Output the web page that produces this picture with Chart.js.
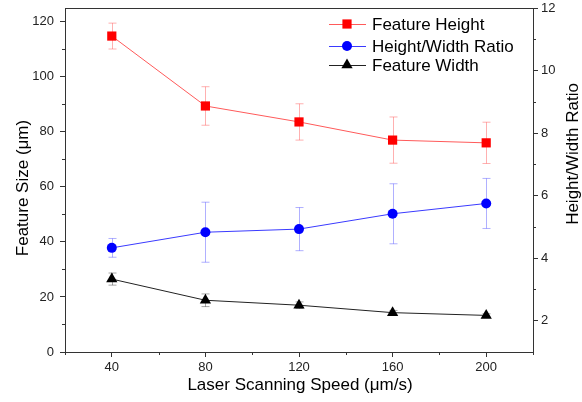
<!DOCTYPE html>
<html>
<head>
<meta charset="utf-8">
<script src="https://cdn.jsdelivr.net/npm/chart.js@4.4.0/dist/chart.umd.min.js"></script>
<style>
  html, body { margin:0; padding:0; background:#fff; }
  #wrap { width:582px; height:402px; }
</style>
</head>
<body>
<div id="wrap"><canvas id="chart" width="582" height="402"></canvas></div>
<script>
'use strict';
// data
const speeds     = [40, 80, 120, 160, 200];
const heightVals = [114.8, 89.4, 83.6, 77.0, 76.0];
const heightErr  = [4.7, 7.0, 6.6, 8.4, 7.5];
const ratioVals  = [4.33, 4.83, 4.93, 5.42, 5.75];
const ratioErr   = [0.30, 0.96, 0.69, 0.96, 0.80];
const widthVals  = [26.5, 18.8, 17.0, 14.3, 13.3];
const widthErr   = [2.2, 2.3, 1.2, 0.8, 0.6];

const xTicks      = [40, 80, 120, 160, 200];
const xMinor      = [20, 60, 100, 140, 180, 220];
const leftTicks   = [0, 20, 40, 60, 80, 100, 120];
const leftMinor   = [10, 30, 50, 70, 90, 110];
const rightTicks  = [2, 4, 6, 8, 10, 12];
const rightMinor  = [3, 5, 7, 9, 11];

const FONT = "'Liberation Sans', Arial, sans-serif";
const AXIS = '#333';

const pts = vals => speeds.map((s, i) => ({ x:s, y:vals[i] }));

const series = [
  { label:'Feature Height', data:pts(heightVals), errors:heightErr, yAxisID:'y',
    color:'#ff0000', line:'#ff5a5a', errColor:'rgba(255,80,80,.45)', style:'rect', r:6.5 },
  { label:'Height/Width Ratio', data:pts(ratioVals), errors:ratioErr, yAxisID:'y1',
    color:'#0000ff', line:'#3a3aff', errColor:'rgba(80,80,255,.45)', style:'circle', r:5 },
  { label:'Feature Width', data:pts(widthVals), errors:widthErr, yAxisID:'y',
    color:'#000000', line:'#222', errColor:'rgba(0,0,0,.35)', style:'triangle', r:6.5 },
];

const decorations = {
  id:'decorations',
  beforeDatasetsDraw(chart) {
    const ctx = chart.ctx;
    chart.data.datasets.forEach((ds, i) => {
      const meta = chart.getDatasetMeta(i);
      const ys = chart.scales[ds.yAxisID];
      ctx.save();
      ctx.strokeStyle = ds.errColor; ctx.lineWidth = 1;
      meta.data.forEach((p, j) => {
        const v = ds.data[j].y, e = ds.errors[j];
        const x = Math.round(p.x) + 0.5;
        const y1 = ys.getPixelForValue(v + e), y2 = ys.getPixelForValue(v - e);
        ctx.beginPath();
        ctx.moveTo(x, y1); ctx.lineTo(x, y2);
        ctx.moveTo(x - 4, y1); ctx.lineTo(x + 4, y1);
        ctx.moveTo(x - 4, y2); ctx.lineTo(x + 4, y2);
        ctx.stroke();
      });
      ctx.restore();
    });
  },
  afterDraw(chart) {
    const ctx = chart.ctx, a = chart.chartArea;
    const { x, y, y1 } = chart.scales;
    ctx.save();
    ctx.strokeStyle = AXIS; ctx.lineWidth = 1;
    ctx.beginPath();
    // top frame
    ctx.moveTo(a.left, a.top + 0.5); ctx.lineTo(a.right, a.top + 0.5);
    // minor ticks
    xMinor.forEach(v => { const px = Math.round(x.getPixelForValue(v)) + 0.5; ctx.moveTo(px, a.bottom); ctx.lineTo(px, a.bottom + 3); });
    leftMinor.forEach(v => { const py = Math.round(y.getPixelForValue(v)) + 0.5; ctx.moveTo(a.left, py); ctx.lineTo(a.left - 3, py); });
    rightMinor.forEach(v => { const py = Math.round(y1.getPixelForValue(v)) + 0.5; ctx.moveTo(a.right, py); ctx.lineTo(a.right + 3, py); });
    ctx.stroke();

    // axis titles
    ctx.fillStyle = '#000';
    ctx.font = `17px ${FONT}`;
    ctx.textAlign = 'center'; ctx.textBaseline = 'middle';
    ctx.fillText('Laser Scanning Speed (\u03bcm/s)', 300, 385);
    ctx.save(); ctx.translate(23, 188); ctx.rotate(-Math.PI / 2);
    ctx.fillText('Feature Size (\u03bcm)', 0, 0); ctx.restore();
    ctx.save(); ctx.translate(573, 154); ctx.rotate(-Math.PI / 2);
    ctx.fillText('Height/Width Ratio', 0, 0); ctx.restore();

    // legend
    const rows = [24, 46, 65];
    ctx.textAlign = 'left';
    chart.data.datasets.forEach((ds, i) => {
      const ly = rows[i];
      ctx.strokeStyle = ds.borderColor; ctx.lineWidth = 1;
      ctx.beginPath(); ctx.moveTo(329, ly + 0.5); ctx.lineTo(366, ly + 0.5); ctx.stroke();
      ctx.fillStyle = ds.pointBackgroundColor; ctx.strokeStyle = ds.pointBackgroundColor;
      Chart.helpers.drawPoint(ctx, { pointStyle:ds.pointStyle, radius:ds.pointRadius, borderWidth:0, rotation:0 }, 347, ly);
      ctx.fillStyle = '#000';
      ctx.fillText(ds.label, 372, ly + 1);
    });
    ctx.restore();
  }
};

const tickFont = { family:FONT, size:13 };
const noPad = s => { s.paddingTop = 0; s.paddingBottom = 0; s.paddingLeft = 0; s.paddingRight = 0; };

new Chart(document.getElementById('chart'), {
  type:'line',
  data:{
    datasets: series.map(s => ({
      label:s.label, data:s.data, errors:s.errors, errColor:s.errColor, yAxisID:s.yAxisID,
      borderColor:s.line, borderWidth:1, backgroundColor:s.color,
      pointStyle:s.style, pointRadius:s.r, pointBackgroundColor:s.color, pointBorderColor:s.color,
      pointBorderWidth:0, tension:0, fill:false,
    })),
  },
  options:{
    responsive:false, animation:false, devicePixelRatio:1,
    layout:{ padding:{ top:8, left:0, right:0, bottom:0 } },
    plugins:{ legend:{ display:false }, tooltip:{ enabled:false } },
    scales:{
      x:{ type:'linear', min:20, max:220,
        afterBuildTicks: s => { s.ticks = xTicks.map(v => ({ value:v })); },
        afterFit: s => { s.height = 50; noPad(s); },
        grid:{ drawOnChartArea:false, drawTicks:true, tickLength:5, color:AXIS },
        border:{ display:true, color:AXIS, width:1 },
        ticks:{ color:'#222', font:tickFont, padding:3, maxRotation:0 } },
      y:{ type:'linear', position:'left', min:0, max:125,
        afterBuildTicks: s => { s.ticks = leftTicks.map(v => ({ value:v })); },
        afterFit: s => { s.width = 65; noPad(s); },
        grid:{ drawOnChartArea:false, drawTicks:true, tickLength:5, color:AXIS },
        border:{ display:true, color:AXIS, width:1 },
        ticks:{ color:'#222', font:tickFont, padding:6 } },
      y1:{ type:'linear', position:'right', min:1, max:12,
        afterBuildTicks: s => { s.ticks = rightTicks.map(v => ({ value:v })); },
        afterFit: s => { s.width = 49; noPad(s); },
        grid:{ drawOnChartArea:false, drawTicks:true, tickLength:5, color:AXIS },
        border:{ display:true, color:AXIS, width:1 },
        ticks:{ color:'#222', font:tickFont, padding:3 } },
    },
  },
  plugins:[decorations],
});
</script>
</body>
</html>
